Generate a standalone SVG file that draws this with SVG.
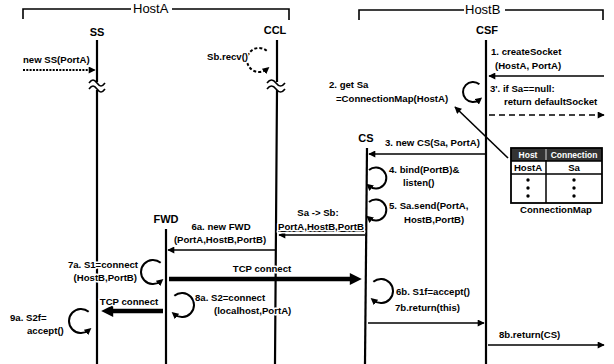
<svg xmlns="http://www.w3.org/2000/svg" width="614" height="364" viewBox="0 0 614 364">
<defs>
<marker id="ah" viewBox="0 0 10 10" refX="9" refY="5" markerUnits="userSpaceOnUse" markerWidth="8" markerHeight="7" orient="auto"><path d="M0,0 L10,5 L0,10 z" fill="#000"/></marker>
<marker id="ahl" viewBox="0 0 10 10" refX="5" refY="5" markerUnits="userSpaceOnUse" markerWidth="7" markerHeight="7" orient="auto"><path d="M0,0 L10,5 L0,10 z" fill="#000"/></marker>
<marker id="aht" viewBox="0 0 10 10" refX="1" refY="5" markerUnits="userSpaceOnUse" markerWidth="13" markerHeight="12" orient="auto"><path d="M0,0 L10,5 L0,10 z" fill="#000"/></marker>
</defs>
<style>
text{font-family:"Liberation Sans",Arial,sans-serif;fill:#000;stroke:#fff;stroke-width:3;paint-order:stroke;stroke-linejoin:round}
.m{font-size:9.6px;font-weight:bold}
.h{font-size:13px}
.l{font-size:11px;font-weight:bold;text-anchor:middle}
.th{fill:#fff;stroke:none;font-size:8.5px;font-weight:bold;text-anchor:middle}
.life{stroke:#000;stroke-width:2.2;fill:none}
.msg{stroke:#000;stroke-width:1.6;fill:none;marker-end:url(#ah)}
.tcp{stroke:#000;stroke-width:4.5;fill:none;marker-end:url(#aht)}
.loop{stroke:#000;stroke-width:2;fill:none;marker-end:url(#ahl)}
.brk{stroke:#000;stroke-width:1.6;fill:none}
.frame{stroke:#000;stroke-width:1.6;fill:none}
</style>
<rect width="614" height="364" fill="#fff"/>

<g id="hostA">
<path class="frame" d="M23,19 V9 H131 M172,9 H289 V20"/>
<text class="h" x="133" y="13">HostA</text>
</g>
<g id="hostB">
<path class="frame" d="M359,20 V10 H464 M505,10 H603 V20"/>
<text class="h" x="465" y="14">HostB</text>
</g>

<g id="SS">
<text class="l" x="97" y="36">SS</text>
<path class="life" d="M97,40 V82 M97,90 V364"/>
<path class="brk" d="M89,83 c3,-4 5,-4 8,0 s5,4 8,0 M89,89 c3,-4 5,-4 8,0 s5,4 8,0"/>
</g>
<g id="CCL">
<text class="l" x="275" y="34">CCL</text>
<path class="life" d="M277,40 V82 M277,90 L275,364"/>
<path class="brk" d="M267,83 c3,-4 6,-4 9,0 s6,4 9,0 M267,89 c3,-4 6,-4 9,0 s6,4 9,0"/>
</g>
<g id="CSF">
<text class="l" x="487" y="34">CSF</text>
<path class="life" d="M486,40 V364"/>
</g>
<g id="CS">
<text class="l" x="366" y="142">CS</text>
<path class="life" d="M367,148 L365,364"/>
</g>
<g id="FWD">
<text class="l" x="166" y="223">FWD</text>
<path class="life" d="M166,229 V364"/>
</g>

<g id="ConnectionMap">
<rect x="511" y="148" width="91" height="13" fill="#333"/>
<rect x="511" y="148" width="91" height="55" fill="none" stroke="#000" stroke-width="1.8"/>
<path d="M511,161 H602 M511,174 H602 M546,148 V203" stroke="#000" stroke-width="1.5"/>
<path d="M546,149 V160" stroke="#fff" stroke-width="1"/>
<text class="th" x="528" y="158">Host</text>
<text class="th" x="574" y="158">Connection</text>
<text class="m" x="528" y="171" text-anchor="middle">HostA</text>
<text class="m" x="574" y="171" text-anchor="middle">Sa</text>
<g fill="#000"><circle cx="528" cy="180" r="1.7"/><circle cx="528" cy="188" r="1.7"/><circle cx="528" cy="196" r="1.7"/><circle cx="574" cy="180" r="1.7"/><circle cx="574" cy="188" r="1.7"/><circle cx="574" cy="196" r="1.7"/></g>
<text class="m" x="556" y="213" text-anchor="middle">ConnectionMap</text>
</g>

<g id="connectors">
<path d="M23,70 H95" stroke="#000" stroke-width="2" stroke-dasharray="2,1.3" fill="none" marker-end="url(#ah)"/>
<path d="M266.7,50.8 A12,12 0 1 0 266.7,69.2" class="loop" stroke-dasharray="3,2"/>
<path class="msg" d="M604,76 H489"/>
<path class="loop" d="M479.4,84.3 A10,10 0 1 0 479.4,99.7"/>
<path d="M489,115 H604" stroke="#000" stroke-width="1.6" stroke-dasharray="6,4" fill="none" marker-end="url(#ah)"/>
<path class="msg" d="M508,158 L455,107"/>
<path class="msg" d="M485,154 H369"/>
<path class="loop" d="M369,170 A10.5,10.5 0 1 1 369,186"/>
<path class="loop" d="M369,202 A10.5,10.5 0 1 1 369,218"/>
<path class="msg" d="M365,235 H279"/>
<path class="msg" d="M275,250 H168"/>
<path class="loop" d="M160.7,262.8 A12,12 0 1 0 160.7,281.2"/>
<path class="tcp" d="M169,279 H351"/>
<path class="loop" d="M174.3,295.8 A12,12 0 1 1 174.3,314.2"/>
<path class="tcp" d="M163,311 H112"/>
<path class="loop" d="M88.7,311.8 A12,12 0 1 0 88.7,330.2"/>
<path class="loop" d="M373.3,281.8 A12,12 0 1 1 373.3,300.2"/>
<path class="msg" d="M368,323 H484"/>
<path class="msg" d="M488,345 H604"/>
</g>

<g id="labels">
<text class="m" x="23" y="63">new SS(PortA)</text>
<text class="m" x="207" y="60">Sb.recv()</text>
<text class="m" x="491" y="55">1. createSocket</text>
<text class="m" x="495" y="69">(HostA, PortA)</text>
<text class="m" x="490" y="92">3'. if Sa==null:</text>
<text class="m" x="504" y="105">return defaultSocket</text>
<text class="m" x="329" y="88">2. get Sa</text>
<text class="m" x="336" y="102">=ConnectionMap(HostA)</text>
<text class="m" x="385" y="146">3. new CS(Sa, PortA)</text>
<text class="m" x="389" y="173">4. bind(PortB)&amp;</text>
<text class="m" x="403" y="186">listen()</text>
<text class="m" x="389" y="209">5. Sa.send(PortA,</text>
<text class="m" x="404" y="223">HostB,PortB)</text>
<text class="m" x="318" y="216" text-anchor="middle">Sa -&gt; Sb:</text>
<text class="m" x="321" y="230" text-anchor="middle" text-decoration="underline">PortA,HostB,PortB</text>
<text class="m" x="221" y="230" text-anchor="middle">6a. new FWD</text>
<text class="m" x="220" y="243" text-anchor="middle">(PortA,HostB,PortB)</text>
<text class="m" x="138" y="268" text-anchor="end">7a. S1=connect</text>
<text class="m" x="137" y="281" text-anchor="end">(HostB,PortB)</text>
<text class="m" x="262" y="272" text-anchor="middle">TCP connect</text>
<text class="m" x="195" y="301">8a. S2=connect</text>
<text class="m" x="214" y="314">(localhost,PortA)</text>
<text class="m" x="129" y="305" text-anchor="middle">TCP connect</text>
<text class="m" x="10" y="321">9a. S2f=</text>
<text class="m" x="27" y="334">accept()</text>
<text class="m" x="396" y="295">6b. S1f=accept()</text>
<text class="m" x="395" y="311">7b.return(this)</text>
<text class="m" x="499" y="338">8b.return(CS)</text>
</g>
</svg>
